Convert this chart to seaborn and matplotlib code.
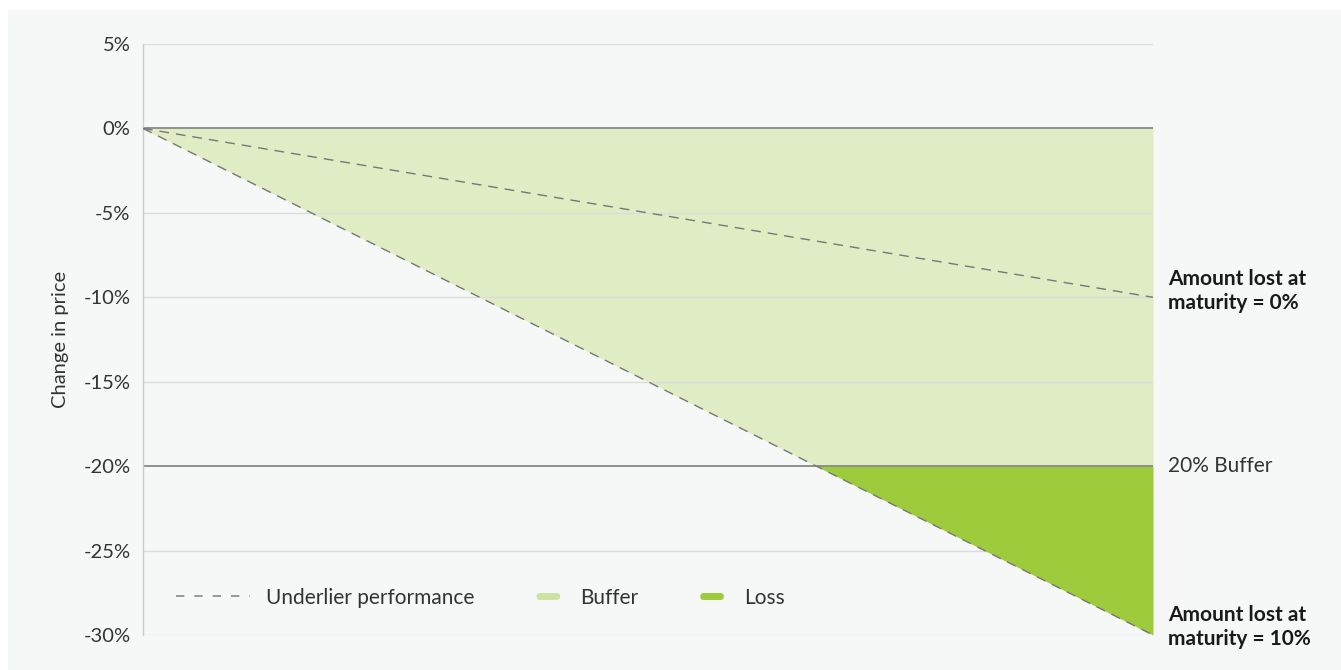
import numpy as np
import pandas as pd
import seaborn as sns
import matplotlib.pyplot as plt
from matplotlib.lines import Line2D
from matplotlib.patches import Patch, Rectangle, FancyBboxPatch
from matplotlib.legend_handler import HandlerBase

# time to maturity (share of the period) and price changes in %
x_points = [0, 2 / 3, 1]
underlier = [0, -20, -30]
underlier_mild = [0, -6.67, -10]
buffer_level = -20

y_ticks = [5, 0, -5, -10, -15, -20, -25, -30]
y_labels = ['5%', '0%', '-5%', '-10%', '-15%', '-20%', '-25%', '-30%']

buffer_color = '#e0ecc4'
buffer_legend = '#cde3a0'
loss_color = '#9dcb3b'
line_color = '#777777'
text_color = '#333333'


class HandlerPill(HandlerBase):
    # small rounded swatch instead of the default rectangle (sizes in points)
    def create_artists(self, legend, orig_handle, xdescent, ydescent, width, height,
                       fontsize, trans):
        w, h = 17, 5
        x0 = width - w - 3
        y0 = (height - h) / 2 - ydescent
        p = FancyBboxPatch((x0, y0), w, h, boxstyle=f'round,pad=0,rounding_size={h / 2}',
                           facecolor=orig_handle.get_facecolor(), edgecolor='none',
                           transform=trans)
        return [p]


sns.set_style('white')
plt.rcParams['font.family'] = ['Lato', 'DejaVu Sans']

fig = plt.figure(figsize=(13.41, 6.7), dpi=100)
fig.patch.set_facecolor('white')
fig.patches.append(Rectangle((8 / 1341, 0), 1, 1 - 10 / 670, transform=fig.transFigure,
                             facecolor='#f6f8f8', edgecolor='none', zorder=-10))
ax = fig.add_axes([143 / 1341, 1 - 635 / 670, 1010 / 1341, 591 / 670])
ax.set_facecolor('none')

x = np.array(x_points)
u = np.array(underlier)
ax.fill_between(x, 0, np.maximum(u, buffer_level), color=buffer_color, lw=0, zorder=1)
ax.fill_between(x, buffer_level, np.minimum(u, buffer_level), color=loss_color, lw=0, zorder=1.8)

for t in y_ticks:
    if t in (0, buffer_level):
        ax.axhline(t, color='#888888', lw=1.3, zorder=2)
    else:
        ax.axhline(t, color='#dcdcdc', lw=1, zorder=1.5)

df = pd.DataFrame({'x': x_points * 2,
                   'y': underlier + underlier_mild,
                   'line': ['steep'] * 3 + ['mild'] * 3})
sns.lineplot(data=df, x='x', y='y', units='line', estimator=None, color=line_color,
             lw=1, dashes=False, ax=ax, zorder=3)
for ln in ax.lines[-2:]:
    ln.set_dashes((7, 5))

ax.set_xlim(0, 1)
ax.set_ylim(-30, 5)
ax.set_yticks(y_ticks)
ax.set_yticklabels(y_labels, fontsize=14.5, color=text_color)
ax.set_xticks([])
ax.set_xlabel('')
ax.set_ylabel('Change in price', fontsize=14.5, color=text_color, labelpad=10)
ax.tick_params(axis='y', length=0, pad=9)
for s in ['top', 'right', 'bottom']:
    ax.spines[s].set_visible(False)
ax.spines['left'].set_color('#cccccc')
ax.spines['left'].set_linewidth(1)

tr = ax.get_yaxis_transform()
ax.text(1.0145, -9.6, 'Amount lost at\nmaturity = 0%', transform=tr, fontsize=15,
        fontweight='bold', color='#1a1a1a', va='center', ha='left', linespacing=1.25)
ax.text(1.0145, -20, '20% Buffer', transform=tr, fontsize=15, color=text_color,
        va='center', ha='left')
ax.text(1.0145, -29.5, 'Amount lost at\nmaturity = 10%', transform=tr, fontsize=15,
        fontweight='bold', color='#1a1a1a', va='center', ha='left', linespacing=1.25)

buffer_handle = Patch(facecolor=buffer_legend, edgecolor='none')
loss_handle = Patch(facecolor=loss_color, edgecolor='none')
handles = [Line2D([0], [0], color='#888888', lw=1.2, dashes=(5, 6)), buffer_handle, loss_handle]
ax.legend(handles, ['Underlier performance', 'Buffer', 'Loss'], loc='center left',
          bbox_to_anchor=(0.033, 0.063), ncol=3, frameon=False, fontsize=15,
          handlelength=3.55, columnspacing=0.77, handletextpad=0.75, labelcolor=text_color,
          borderpad=0, borderaxespad=0,
          handler_map={buffer_handle: HandlerPill(), loss_handle: HandlerPill()})

fig.savefig('out.png', dpi=100, facecolor=fig.get_facecolor())
